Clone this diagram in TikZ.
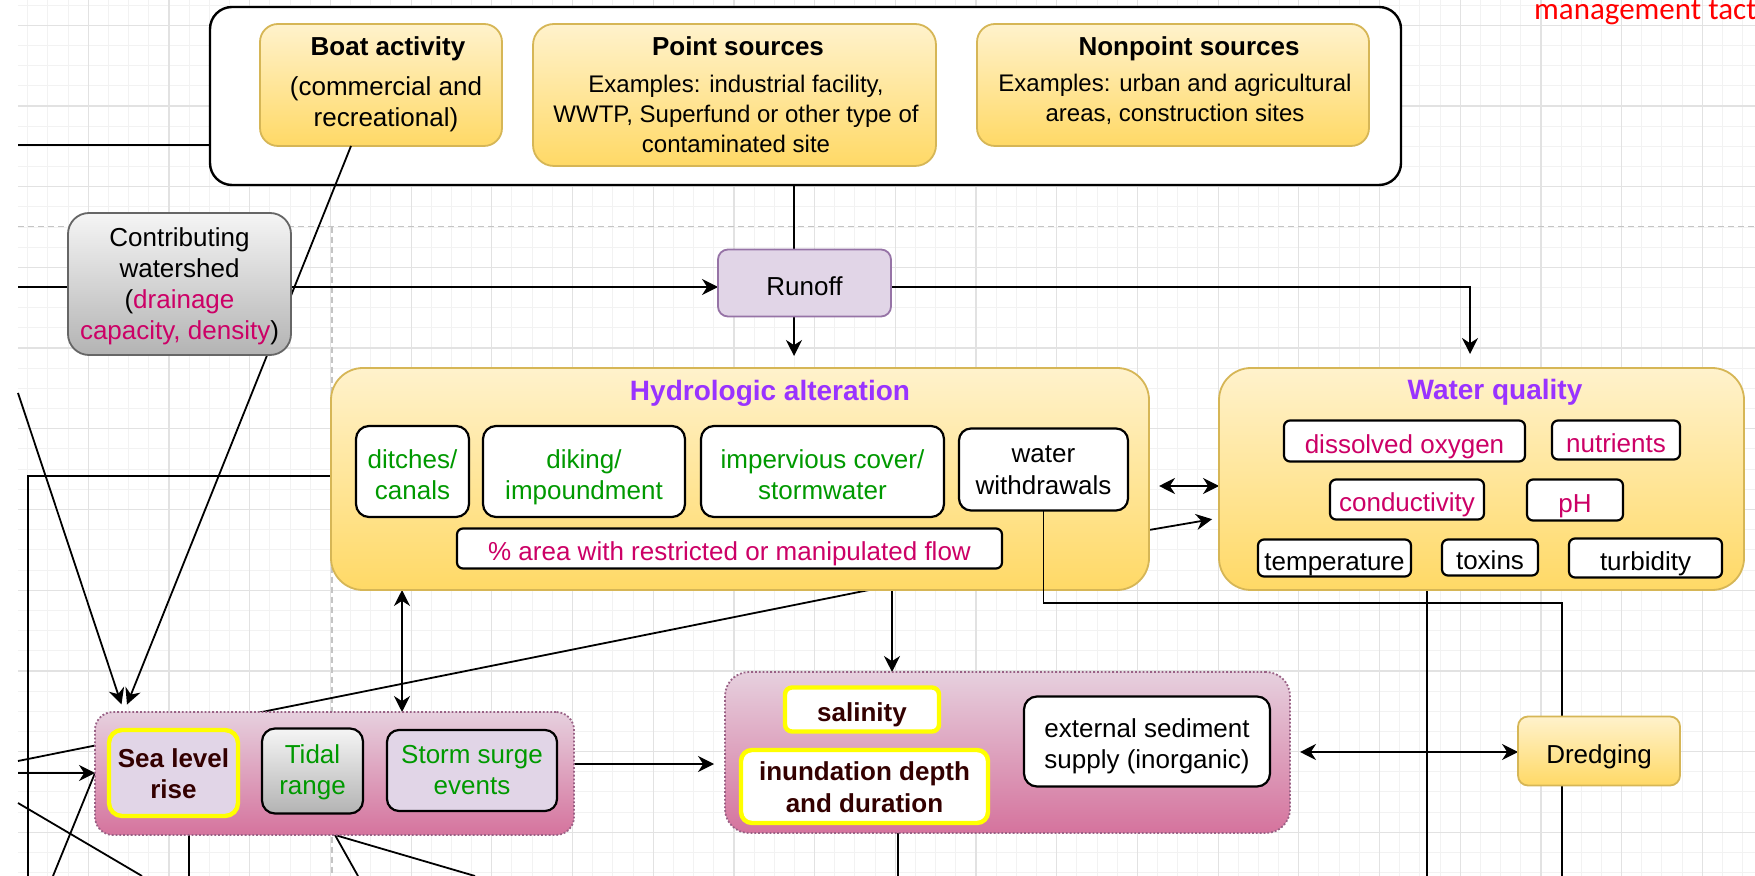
\documentclass[tikz,border=0pt]{standalone}
\usepackage{fontspec}
\setmainfont{Liberation Sans}
\newfontfamily\calib{Carlito}
\usetikzlibrary{arrows.meta,calc}
\definecolor{ylt}{HTML}{FFF2CC}
\definecolor{ydk}{HTML}{FFD966}
\definecolor{ybd}{HTML}{D6B656}
\definecolor{glt}{HTML}{F5F5F5}
\definecolor{gdk}{HTML}{B3B3B3}
\definecolor{gbd}{HTML}{666666}
\definecolor{pfill}{HTML}{E1D5E7}
\definecolor{pbd}{HTML}{9673A6}
\definecolor{klt}{HTML}{E6D0DE}
\definecolor{kdk}{HTML}{D5739D}
\definecolor{kbd}{HTML}{996185}
\definecolor{crim}{HTML}{CC0066}
\definecolor{grn}{HTML}{009900}
\definecolor{purp}{HTML}{9933FF}
\definecolor{mar}{HTML}{330000}
\definecolor{gridmin}{HTML}{F2F2F2}
\definecolor{gridmaj}{HTML}{E2E2E2}
\definecolor{pgline}{HTML}{C4C4C4}
\definecolor{redtxt}{HTML}{FF0000}
\definecolor{hlyel}{HTML}{FFFF00}
\newcommand{\topstrut}{\rule{0pt}{1.14em}}
\newcommand{\botstrut}{\rule[-0.212em]{0pt}{0.212em}}
\pgfdeclarelayer{gridlayer}
\pgfdeclarelayer{edgelayer}
\pgfsetlayers{gridlayer,edgelayer,main}
\begin{document}
\begin{tikzpicture}[x=0.5pt, y=-0.5pt,
  nb/.style={inner sep=0pt, outer sep=0pt},
  yb/.style={nb, draw=ybd, line width=0.9pt, top color=ylt, bottom color=ydk},
  gbx/.style={nb, draw=gbd, line width=0.9pt, top color=glt, bottom color=gdk},
  pbx/.style={nb, draw=pbd, line width=0.9pt, fill=pfill},
  kbx/.style={nb, draw=kbd, densely dotted, line width=0.9pt, top color=klt, bottom color=kdk},
  wbx/.style={nb, draw=black, line width=1.1pt, fill=white},
  hlbx/.style={nb, draw=hlyel, line width=2.2pt},
  cont/.style={nb, draw=black, line width=1.2pt, fill=white, rounded corners=11pt},
  strt/.style={execute at begin node=\topstrut, execute at end node=\botstrut},
  tA/.style={strt, font=\fontsize{13pt}{15.6pt}\selectfont, align=center},
  tB/.style={strt, font=\fontsize{12pt}{15pt}\selectfont, align=center},
  tAb/.style={strt, font=\fontsize{13pt}{15.6pt}\selectfont\bfseries, align=center},
  tT/.style={strt, font=\fontsize{14pt}{16.8pt}\selectfont\bfseries, text=purp},
  ln/.style={draw=black, line width=0.9pt},
  arr/.style={ln, -{Stealth[length=8pt,width=8pt,inset=2.6pt]}},
  darr/.style={ln, {Stealth[length=8pt,width=8pt,inset=2.6pt]}-{Stealth[length=8pt,width=8pt,inset=2.6pt]}}
]
\useasboundingbox (0,0) rectangle (1755,876);
% grid background
\begin{pgfonlayer}{gridlayer}
\fill[white] (0,0) rectangle (1755,876);
\foreach \n in {-3,...,82}{\draw[gridmin, line width=0.5pt] ({88.3+20.175*\n},0) -- ({88.3+20.175*\n},876);}
\foreach \m in {-9,...,34}{\draw[gridmin, line width=0.5pt] (18,{186.7+20.175*\m}) -- (1755,{186.7+20.175*\m});}
\foreach \n in {0,...,20}{\draw[gridmaj, line width=0.6pt] ({88.3+80.7*\n},0) -- ({88.3+80.7*\n},876);}
\foreach \m in {-2,...,8}{\draw[gridmaj, line width=0.6pt] (18,{186.7+80.7*\m}) -- (1755,{186.7+80.7*\m});}
\draw[pgline, dash pattern=on 3pt off 2pt, line width=0.6pt] (18,226.7) -- (1755,226.7);
\draw[pgline, dash pattern=on 3pt off 2pt, line width=0.6pt] (332,226.7) -- (332,876);
\end{pgfonlayer}
% free connector ends and routing coordinates
\coordinate (eL1) at (18,145);
\coordinate (eL2) at (18,287);
\coordinate (xR) at (794,0);
\coordinate (xW) at (1470,0);
\coordinate (bo) at (351,0);
\coordinate (slA) at (124,712);
\coordinate (eLA) at (18,393);
\coordinate (hL) at (28,476);
\coordinate (eB1) at (28,876);
\coordinate (xD) at (402,0);
\coordinate (xH) at (869,0);
\coordinate (eLB) at (18,761);
\coordinate (eLC) at (18,773);
\coordinate (eB2) at (53,876);
\coordinate (eLD) at (18,803);
\coordinate (eB3) at (142,876);
\coordinate (xS1) at (189,0);
\coordinate (eB4) at (189,876);
\coordinate (xS2) at (335,0);
\coordinate (eB5) at (358,876);
\coordinate (eB6) at (475,876);
\coordinate (yM) at (0,764);
\coordinate (xM) at (892,0);
\coordinate (xMb) at (898,0);
\coordinate (eB7) at (898,876);
\coordinate (yDr) at (0,752);
\coordinate (yHW) at (0,486);
\coordinate (sl1) at (0,530);
\coordinate (sl2) at (0,518);
\coordinate (yWW) at (0,603);
\coordinate (eB8) at (1562,876);
\coordinate (xQ) at (1427,0);
\coordinate (eB9) at (1427,876);

% red heading fragment
\node[font=\calib\fontsize{15.5pt}{19pt}\selectfont, text=redtxt, anchor=base east, inner sep=0pt] (mgmt) at (1757,20) {management tact};

% sources container
\node[cont, minimum width=595.5pt, minimum height=89pt] (srcbox) at (805.5,96) {};
\node[yb, minimum width=121pt, minimum height=61pt, rounded corners=9pt] (boat) at (381,85) {};
\node[tAb] (boatT) at (388,43) {Boat activity};
\node[tA] (boatB) at (386,104) {(commercial and\\recreational)};
\node[yb, minimum width=201.5pt, minimum height=71pt, rounded corners=10.5pt] (point) at (734.5,95) {};
\node[tAb] (pointT) at (738,43) {Point sources};
\node[tB] (pointB) at (736,116.5) {Examples: industrial facility,\\WWTP, Superfund or other type of\\contaminated site};
\node[yb, minimum width=196pt, minimum height=61pt, rounded corners=9pt] (nonpt) at (1173,85) {};
\node[tAb] (nonptT) at (1189,43) {Nonpoint sources};
\node[tB] (nonptB) at (1175,100.5) {Examples: urban and agricultural\\areas, construction sites};

% boat line passes over the container, under the watershed box
\draw[arr, shorten >=4pt] (boat.south -| bo) -- (slA);

\node[gbx, minimum width=111.5pt, minimum height=71pt, rounded corners=10.5pt] (ws) at (179.5,284) {};
\node[tA] (wsT) at ([yshift=-1.1pt]ws.center) {Contributing\\watershed\\(\textcolor{crim}{drainage}\\\textcolor{crim}{capacity, density})};
\node[pbx, minimum width=86.5pt, minimum height=33.5pt, rounded corners=5pt, tA] (runoff) at (804.5,283) {Runoff};

% hydrologic alteration
\node[yb, minimum width=409pt, minimum height=111pt, rounded corners=16pt] (hydro) at (740,479) {};
\node[tT] (hydroT) at (770,387.5) {Hydrologic alteration};
\node[wbx, minimum width=56.5pt, minimum height=45.5pt, rounded corners=6.5pt] (ditch) at (412.5,471.5) {};
\node[tA, text=grn] (ditchT) at ([yshift=-2.8pt]ditch.center) {ditches/\\canals};
\node[wbx, minimum width=101pt, minimum height=45.5pt, rounded corners=6.5pt] (dike) at (584,471.5) {};
\node[tA, text=grn] (dikeT) at ([yshift=-2.8pt]dike.center) {diking/\\impoundment};
\node[wbx, minimum width=121.5pt, minimum height=45.5pt, rounded corners=6.5pt] (imperv) at (822.5,471.5) {};
\node[tA, text=grn] (impervT) at ([yshift=-2.8pt]imperv.center) {impervious cover/\\stormwater};
\node[wbx, minimum width=84.5pt, minimum height=41pt, rounded corners=6pt] (ww) at (1043.5,469.5) {};
\node[tA] (wwT) at ([yshift=-1.7pt]ww.center) {water\\withdrawals};
\node[wbx, minimum width=272.5pt, minimum height=20pt, rounded corners=3pt, tA, text=crim] (area) at (729.5,548.5) {\% area with restricted or manipulated flow};

% withdrawals line: over hydro box, under dredging box
\draw[ln] (ww.south) |- (yWW -| eB8) -- (eB8);

% water quality
\node[yb, minimum width=262.5pt, minimum height=111pt, rounded corners=16pt] (wq) at (1481.5,479) {};
\node[tT] (wqT) at (1495,386.5) {Water quality};
\node[wbx, minimum width=120.5pt, minimum height=20.5pt, rounded corners=3pt, tA, text=crim] (dox) at (1404.5,441) {dissolved oxygen};
\node[wbx, minimum width=64pt, minimum height=19.5pt, rounded corners=3pt, tA, text=crim] (nut) at (1616,440) {nutrients};
\node[wbx, minimum width=77pt, minimum height=20pt, rounded corners=3pt, tA, text=crim] (cond) at (1407,499.5) {conductivity};
\node[wbx, minimum width=48pt, minimum height=20.5pt, rounded corners=3pt, tA, text=crim] (ph) at (1575,500) {pH};
\node[wbx, minimum width=76.5pt, minimum height=18.5pt, rounded corners=3pt, tA] (temp) at (1334.5,558) {temperature};
\node[wbx, minimum width=48pt, minimum height=18pt, rounded corners=3pt, tA] (tox) at (1490,557.5) {toxins};
\node[wbx, minimum width=76.5pt, minimum height=19.5pt, rounded corners=3pt, tA] (turb) at (1645.5,558) {turbidity};

% sea level group
\node[kbx, minimum width=239.5pt, minimum height=61.5pt, rounded corners=9pt] (sl) at (334.5,773.5) {};
\node[hlbx, fill=pfill, minimum width=64.5pt, minimum height=43pt, rounded corners=6.5pt] (slr) at (173.5,773) {};
\node[tAb, text=mar] (slrT) at ([yshift=-1.7pt]slr.center) {Sea level\\rise};
\node[nb, draw=black, line width=1.1pt, top color=glt, bottom color=gdk, minimum width=50.5pt, minimum height=42.5pt, rounded corners=6.5pt] (tidal) at (312.5,771) {};
\node[tA, text=grn] (tidalT) at ([yshift=-0.8pt]tidal.center) {Tidal\\range};
\node[nb, draw=black, line width=1.1pt, fill=pfill, minimum width=85pt, minimum height=40.5pt, rounded corners=6pt] (storm) at (472,770.5) {};
\node[tA, text=grn] (stormT) at ([yshift=-1.1pt]storm.center) {Storm surge\\events};

% middle group
\node[kbx, minimum width=282.5pt, minimum height=80.5pt, rounded corners=12pt] (midbox) at (1007.5,752.5) {};
\node[hlbx, fill=white, minimum width=77pt, minimum height=22pt, rounded corners=3.5pt, tAb, text=mar] (sal) at (862,709.5) {salinity};
\node[hlbx, fill=white, minimum width=123.5pt, minimum height=36.5pt, rounded corners=5.5pt] (inund) at (864.5,786.5) {};
\node[tAb, text=mar] (inundT) at ([yshift=-1.7pt]inund.center) {inundation depth\\and duration};
\node[wbx, minimum width=123pt, minimum height=45pt, rounded corners=6.5pt] (ext) at (1147,741.5) {};
\node[tA] (extT) at ([yshift=-2.5pt]ext.center) {external sediment\\supply (inorganic)};

\node[yb, minimum width=81pt, minimum height=34.5pt, rounded corners=5pt, tA] (dredge) at (1599,751) {Dredging};

% connectors behind the boxes
\begin{pgfonlayer}{edgelayer}
\draw[ln] (eL1) -- (eL1 -| srcbox.west);
\draw[ln] (eL2) -- (eL2 -| ws.west);
\draw[arr] (eL2 -| ws.east) -- (eL2 -| runoff.west);
\draw[ln] (srcbox.south -| xR) -- (runoff.north -| xR);
\draw[arr, shorten >=6pt] (runoff.south -| xR) -- (hydro.north -| xR);
\draw[arr, shorten >=7pt] (eL2 -| runoff.east) -| (wq.north -| xW);
\draw[arr, shorten >=4pt] (eLA) -- (slA);
\draw[ln] (hL -| hydro.west) -- (hL) -- (eB1);
\draw[darr] (hydro.south -| xD) -- (sl.north -| xD);
\draw[ln] (hydro.south -| xH) -- (eLB);
\draw[arr] (eLC) -- (eLC -| sl.west);
\draw[ln] (eLC -| sl.west) -- (eB2);
\draw[ln] (eLD) -- (eB3);
\draw[ln] (sl.south -| xS1) -- (eB4);
\draw[ln] (sl.south -| xS2) -- (eB5);
\draw[ln] (sl.south -| xS2) -- (eB6);
\draw[arr, shorten >=5.5pt] (yM -| sl.east) -- (yM -| midbox.west);
\draw[arr] (hydro.south -| xM) -- (midbox.north -| xM);
\draw[ln] (midbox.south -| xMb) -- (eB7);
\draw[darr, shorten <=5pt] (yDr -| midbox.east) -- (yDr -| dredge.west);
\draw[darr, shorten <=5pt] (yHW -| hydro.east) -- (yHW -| wq.west);
\draw[arr, shorten >=3.5pt] (sl1 -| hydro.east) -- (sl2 -| wq.west);
\draw[ln] (wq.south -| xQ) -- (eB9);
\end{pgfonlayer}
\end{tikzpicture}
\end{document}
